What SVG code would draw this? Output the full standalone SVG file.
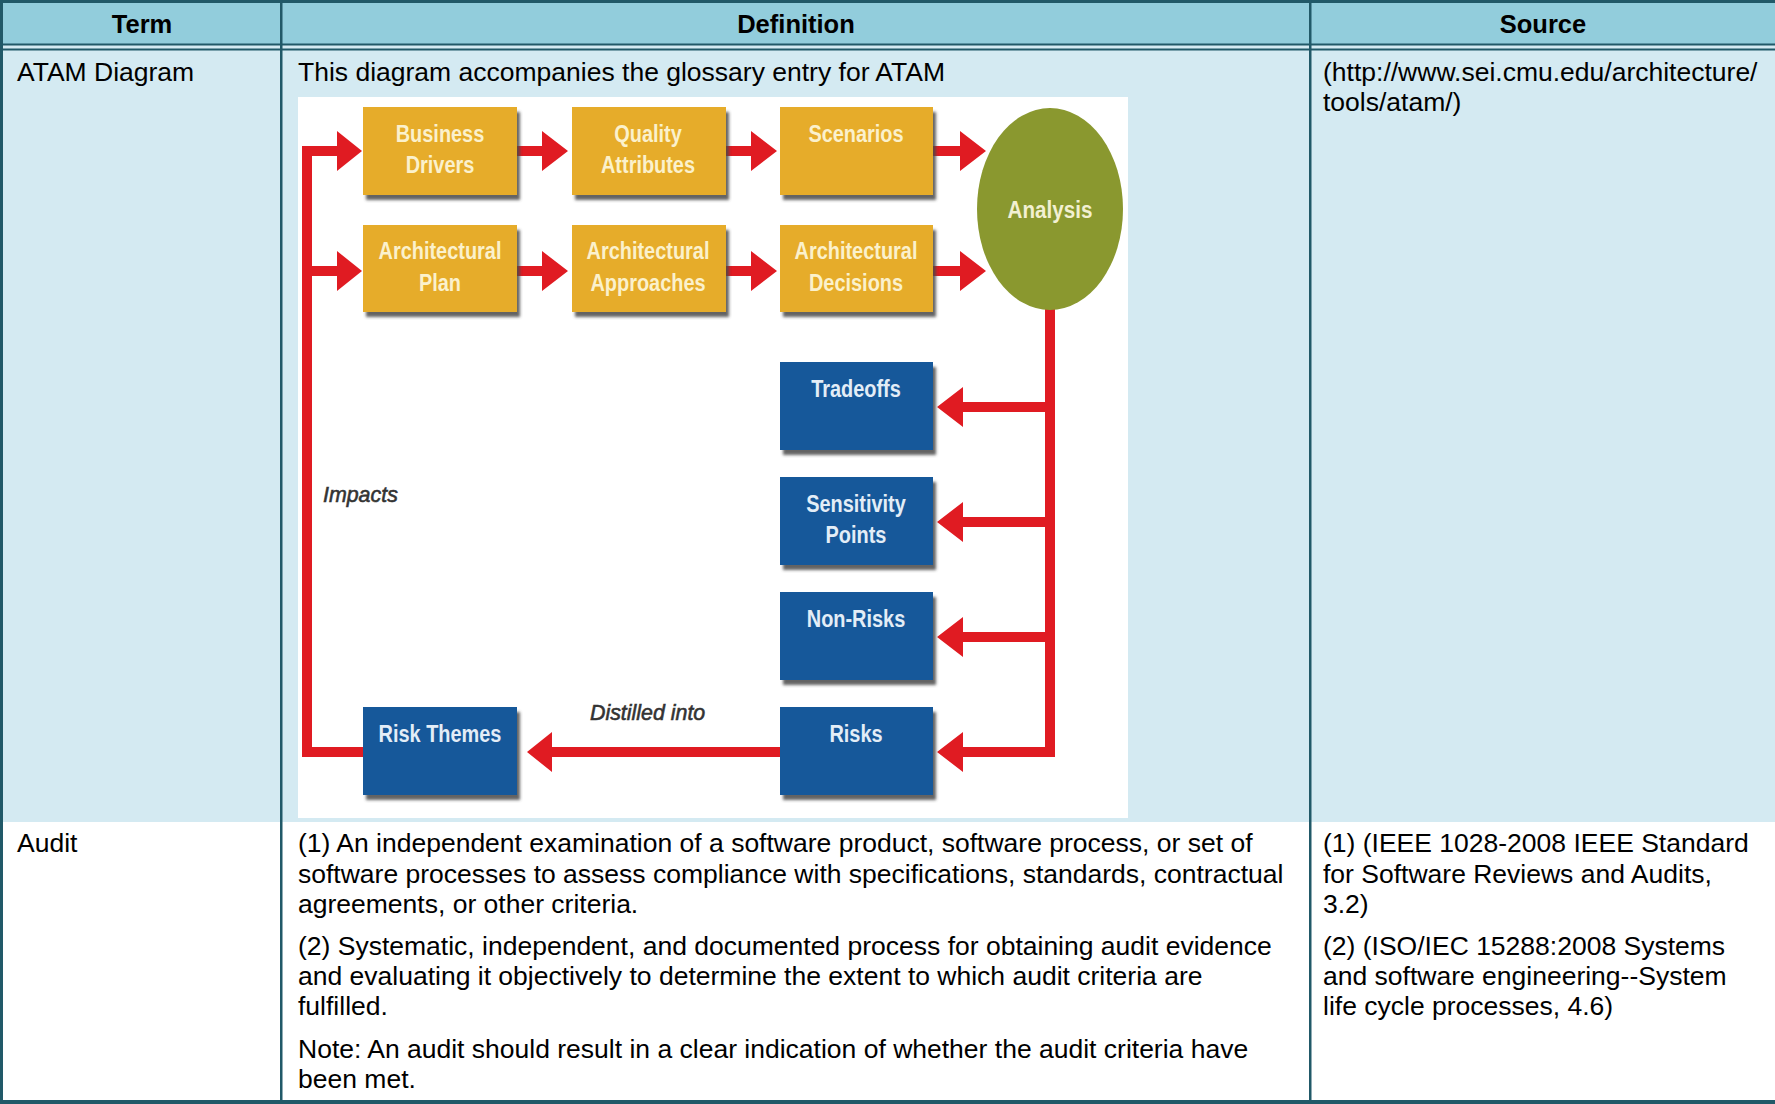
<svg xmlns="http://www.w3.org/2000/svg" width="1775" height="1104" viewBox="0 0 1775 1104">
<defs>
<style>
.cell{font-family:"Liberation Sans",Arial,sans-serif;font-size:26.5px;fill:#000}
.hdr{font-family:"Liberation Sans",Arial,sans-serif;font-size:25.5px;font-weight:bold;fill:#000;text-anchor:middle}
.rule{fill:#215968}
.by{fill:#e6ac2b}
.bb{fill:#12599a}
.lbl{font-family:"Liberation Sans",Arial,sans-serif;font-size:24px;font-weight:bold;text-anchor:middle}
.ly{fill:#fbf1cc}
.lb{fill:#e3edf7}
.la{fill:#f2f0d2}
.note{font-family:"Liberation Sans",Arial,sans-serif;font-size:23px;font-style:italic;fill:#333333;stroke:#333333;stroke-width:0.6}
.red{fill:#e01b22}
</style>
<filter id="sh" x="-10%" y="-10%" width="130%" height="130%">
<feDropShadow dx="3" dy="5" stdDeviation="1.5" flood-color="#4a4a4a" flood-opacity="0.85"/>
</filter>
</defs>

<g id="table">
<rect x="0" y="0" width="1775" height="1104" fill="#ffffff"/>
<rect x="0" y="0" width="1775" height="44" fill="#92cddc"/>
<rect x="0" y="44" width="1775" height="778" fill="#d4eaf2"/>
<rect x="0" y="822" width="1775" height="278" fill="#ffffff"/>
<rect class="rule" x="0" y="0" width="1775" height="3"/>
<rect class="rule" x="0" y="0" width="3" height="1104"/>
<rect class="rule" x="0" y="1100" width="1775" height="4"/>
<rect class="rule" x="0" y="43.5" width="1775" height="2"/>
<rect class="rule" x="0" y="48.5" width="1775" height="2"/>
<rect class="rule" x="280" y="0" width="2.5" height="1100"/>
<rect class="rule" x="1309" y="0" width="2.5" height="1100"/>

<text class="hdr" x="142" y="33">Term</text>
<text class="hdr" x="796" y="33">Definition</text>
<text class="hdr" x="1543" y="33">Source</text>

<text class="cell" x="17" y="80.5">ATAM Diagram</text>
<text class="cell" x="298" y="80.5">This diagram accompanies the glossary entry for ATAM</text>
<text class="cell" x="1323" y="80.5">(http://www.sei.cmu.edu/architecture/</text>
<text class="cell" x="1323" y="111">tools/atam/)</text>

<text class="cell" x="17" y="852">Audit</text>
<text class="cell" x="298" y="852">(1) An independent examination of a software product, software process, or set of</text>
<text class="cell" x="298" y="883">software processes to assess compliance with specifications, standards, contractual</text>
<text class="cell" x="298" y="913">agreements, or other criteria.</text>
<text class="cell" x="298" y="955">(2) Systematic, independent, and documented process for obtaining audit evidence</text>
<text class="cell" x="298" y="985">and evaluating it objectively to determine the extent to which audit criteria are</text>
<text class="cell" x="298" y="1015">fulfilled.</text>
<text class="cell" x="298" y="1058">Note: An audit should result in a clear indication of whether the audit criteria have</text>
<text class="cell" x="298" y="1088">been met.</text>

<text class="cell" x="1323" y="852">(1) (IEEE 1028-2008 IEEE Standard</text>
<text class="cell" x="1323" y="883">for Software Reviews and Audits,</text>
<text class="cell" x="1323" y="913">3.2)</text>
<text class="cell" x="1323" y="955">(2) (ISO/IEC 15288:2008 Systems</text>
<text class="cell" x="1323" y="985">and software engineering--System</text>
<text class="cell" x="1323" y="1015">life cycle processes, 4.6)</text>
</g>

<rect id="diagram-bg" x="298" y="97" width="830" height="721" fill="#ffffff"/>

<g id="connectors">
<rect class="red" x="302" y="146" width="10" height="611"/>
<rect class="red" x="302" y="747" width="61" height="10"/>
<polygon class="red" points="302,146 337,146 337,131 362,151 337,171 337,156 302,156"/>
<polygon class="red" points="302,266 337,266 337,251 362,271 337,291 337,276 302,276"/>
<polygon class="red" points="517,146 542,146 542,131 568,151 542,171 542,156 517,156"/>
<polygon class="red" points="726,146 751,146 751,131 777,151 751,171 751,156 726,156"/>
<polygon class="red" points="933,146 960,146 960,131 986,151 960,171 960,156 933,156"/>
<polygon class="red" points="517,266 542,266 542,251 568,271 542,291 542,276 517,276"/>
<polygon class="red" points="726,266 751,266 751,251 777,271 751,291 751,276 726,276"/>
<polygon class="red" points="933,266 960,266 960,251 986,271 960,291 960,276 933,276"/>
<rect class="red" x="1045" y="305" width="10" height="452"/>
<polygon class="red" points="1055,402 963,402 963,387 937,407 963,427 963,412 1055,412"/>
<polygon class="red" points="1055,517 963,517 963,502 937,522 963,542 963,527 1055,527"/>
<polygon class="red" points="1055,632 963,632 963,617 937,637 963,657 963,642 1055,642"/>
<polygon class="red" points="1055,747 963,747 963,732 937,752 963,772 963,757 1055,757"/>
<polygon class="red" points="780,747 552,747 552,732 527,752 552,772 552,757 780,757"/>
<text class="note" transform="translate(323 502) scale(0.93 1)">Impacts</text>
<text class="note" transform="translate(590 720) scale(0.93 1)">Distilled into</text>
</g>

<g id="business-drivers">
<rect class="by" x="363" y="107" width="154" height="88" filter="url(#sh)"/>
<text class="lbl ly" transform="translate(440 142) scale(0.83 1)">Business</text>
<text class="lbl ly" transform="translate(440 173) scale(0.83 1)">Drivers</text>
</g>
<g id="quality-attributes">
<rect class="by" x="572" y="107" width="154" height="88" filter="url(#sh)"/>
<text class="lbl ly" transform="translate(648 142) scale(0.83 1)">Quality</text>
<text class="lbl ly" transform="translate(648 173) scale(0.83 1)">Attributes</text>
</g>
<g id="scenarios">
<rect class="by" x="780" y="107" width="153" height="88" filter="url(#sh)"/>
<text class="lbl ly" transform="translate(856 142) scale(0.83 1)">Scenarios</text>
</g>
<g id="architectural-plan">
<rect class="by" x="363" y="225" width="154" height="87" filter="url(#sh)"/>
<text class="lbl ly" transform="translate(440 259) scale(0.83 1)">Architectural</text>
<text class="lbl ly" transform="translate(440 291) scale(0.83 1)">Plan</text>
</g>
<g id="architectural-approaches">
<rect class="by" x="572" y="225" width="154" height="87" filter="url(#sh)"/>
<text class="lbl ly" transform="translate(648 259) scale(0.83 1)">Architectural</text>
<text class="lbl ly" transform="translate(648 291) scale(0.83 1)">Approaches</text>
</g>
<g id="architectural-decisions">
<rect class="by" x="780" y="225" width="153" height="87" filter="url(#sh)"/>
<text class="lbl ly" transform="translate(856 259) scale(0.83 1)">Architectural</text>
<text class="lbl ly" transform="translate(856 291) scale(0.83 1)">Decisions</text>
</g>
<g id="analysis">
<ellipse cx="1050" cy="209" rx="73" ry="101" fill="#8a982f"/>
<text class="lbl la" transform="translate(1050 218) scale(0.86 1)">Analysis</text>
</g>
<g id="tradeoffs">
<rect class="bb" x="780" y="362" width="153" height="88" filter="url(#sh)"/>
<text class="lbl lb" transform="translate(856 397) scale(0.83 1)">Tradeoffs</text>
</g>
<g id="sensitivity-points">
<rect class="bb" x="780" y="477" width="153" height="88" filter="url(#sh)"/>
<text class="lbl lb" transform="translate(856 512) scale(0.83 1)">Sensitivity</text>
<text class="lbl lb" transform="translate(856 543) scale(0.83 1)">Points</text>
</g>
<g id="non-risks">
<rect class="bb" x="780" y="592" width="153" height="88" filter="url(#sh)"/>
<text class="lbl lb" transform="translate(856 627) scale(0.83 1)">Non-Risks</text>
</g>
<g id="risks">
<rect class="bb" x="780" y="707" width="153" height="88" filter="url(#sh)"/>
<text class="lbl lb" transform="translate(856 742) scale(0.83 1)">Risks</text>
</g>
<g id="risk-themes">
<rect class="bb" x="363" y="707" width="154" height="88" filter="url(#sh)"/>
<text class="lbl lb" transform="translate(440 742) scale(0.83 1)">Risk Themes</text>
</g>
</svg>
